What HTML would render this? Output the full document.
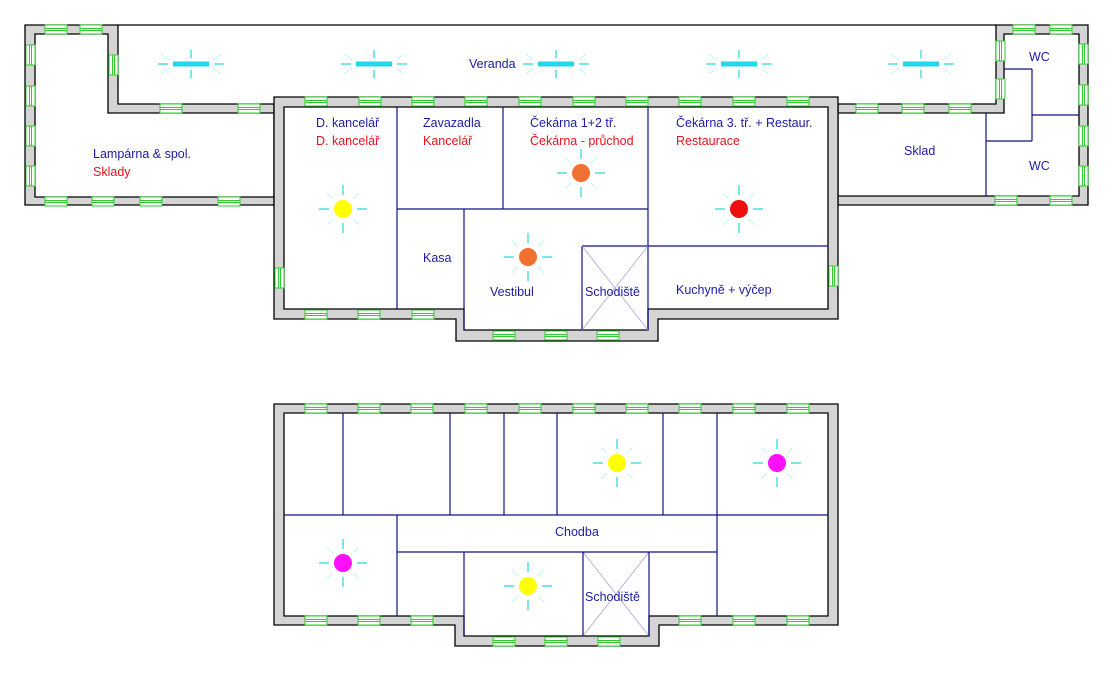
<!DOCTYPE html>
<html><head><meta charset="utf-8"><style>
html,body{margin:0;padding:0;background:#fff}
svg{display:block}
text{font-family:"Liberation Sans",Arial,sans-serif;font-size:12.5px}
.b{fill:#1c1ca8}.r{fill:#e8141e}
.w{fill:#d4d4d4;stroke:#000;stroke-width:1.3;fill-rule:evenodd}
.l{stroke:#10108a;stroke-width:1.2;fill:none}
</style></head><body>
<svg width="1113" height="700" viewBox="0 0 1113 700" xmlns="http://www.w3.org/2000/svg">
<defs>
<g id="wh"><rect x="0" y="0" width="22" height="9" fill="#fff" stroke="#2ecc2e" stroke-width="1"/><line x1="0" y1="3.5" x2="22" y2="3.5" stroke="#2ecc2e"/><line x1="0" y1="5.5" x2="22" y2="5.5" stroke="#2ecc2e"/></g>
<g id="wv"><rect x="0" y="0" width="9" height="20" fill="#fff" stroke="#2ecc2e" stroke-width="1"/><line x1="3.5" y1="0" x2="3.5" y2="20" stroke="#2ecc2e"/><line x1="5.5" y1="0" x2="5.5" y2="20" stroke="#2ecc2e"/></g>
<g id="sun"><g stroke="#22d8d8" stroke-width="1.2"><line x1="-24" y1="0" x2="-14" y2="0"/><line x1="14" y1="0" x2="24" y2="0"/><line x1="0" y1="-24" x2="0" y2="-14"/><line x1="0" y1="14" x2="0" y2="24"/></g><g stroke="#bff4f4" stroke-width="1"><line x1="-16" y1="-16" x2="-10" y2="-10"/><line x1="16" y1="-16" x2="10" y2="-10"/><line x1="-16" y1="16" x2="-10" y2="10"/><line x1="16" y1="16" x2="10" y2="10"/></g></g>
<g id="lamp"><rect x="-18" y="-2.5" width="36" height="5" fill="#22d8e8"/><g stroke="#22d8d8" stroke-width="1.2"><line x1="-33" y1="0" x2="-23" y2="0"/><line x1="23" y1="0" x2="33" y2="0"/><line x1="0" y1="-14" x2="0" y2="-6"/><line x1="0" y1="6" x2="0" y2="14"/></g><g stroke="#bff4f4"><line x1="-30" y1="-10" x2="-22" y2="-4"/><line x1="30" y1="-10" x2="22" y2="-4"/><line x1="-30" y1="10" x2="-22" y2="4"/><line x1="30" y1="10" x2="22" y2="4"/></g></g>
</defs>

<!-- veranda top line -->
<line x1="118" y1="25" x2="996" y2="25" stroke="#000" stroke-width="1.3"/>

<!-- left wing -->
<path class="w" d="M25,25 H118 V104 H274 V205 H25 Z M35,34 V197 H274 V113 H108 V34 Z"/>
<!-- right wing -->
<path class="w" d="M996,25 H1088 V205 H838 V104 H996 Z M1004,34 V113 H838 V196 H1079 V34 Z"/>
<!-- main block top -->
<path class="w" d="M274,97 H838 V319 H658 V341 H456 V319 H274 Z M284,107 V309 H464 V330 H648 V309 H828 V107 Z"/>
<!-- main block bottom -->
<path class="w" d="M274,404 H838 V625 H659 V646 H455 V625 H274 Z M284,413 V616 H464 V636 H649 V616 H828 V413 Z"/>

<!-- interior lines top -->
<g class="l">
<line x1="397" y1="107" x2="397" y2="309"/>
<line x1="503" y1="107" x2="503" y2="209"/>
<line x1="397" y1="209" x2="648" y2="209"/>
<line x1="464" y1="209" x2="464" y2="330"/>
<line x1="648" y1="107" x2="648" y2="330"/>
<line x1="582" y1="246" x2="582" y2="330"/>
<line x1="582" y1="246" x2="828" y2="246"/>
<line x1="986" y1="113" x2="986" y2="196"/>
<line x1="986" y1="141" x2="1032" y2="141"/>
<line x1="1032" y1="69" x2="1032" y2="141"/>
<line x1="1004" y1="69" x2="1032" y2="69"/>
<line x1="1032" y1="115" x2="1079" y2="115"/>
</g>
<g stroke="#a8a8d8" stroke-width="0.8"><line x1="582" y1="246" x2="648" y2="330"/><line x1="648" y1="246" x2="582" y2="330"/>
<line x1="583" y1="552" x2="649" y2="636"/><line x1="649" y1="552" x2="583" y2="636"/></g>

<!-- interior lines bottom -->
<g class="l">
<line x1="343" y1="413" x2="343" y2="515"/>
<line x1="450" y1="413" x2="450" y2="515"/>
<line x1="504" y1="413" x2="504" y2="515"/>
<line x1="557" y1="413" x2="557" y2="515"/>
<line x1="663" y1="413" x2="663" y2="515"/>
<line x1="717" y1="413" x2="717" y2="616"/>
<line x1="284" y1="515" x2="828" y2="515"/>
<line x1="397" y1="515" x2="397" y2="616"/>
<line x1="397" y1="552" x2="717" y2="552"/>
<line x1="464" y1="552" x2="464" y2="636"/>
<line x1="583" y1="552" x2="583" y2="636"/>
<line x1="649" y1="552" x2="649" y2="636"/>
</g>

<!-- windows -->
<g>
<!-- left wing -->
<use href="#wh" x="45" y="25"/><use href="#wh" x="80" y="25"/>
<use href="#wv" x="26" y="45"/><use href="#wv" x="26" y="86"/><use href="#wv" x="26" y="126"/><use href="#wv" x="26" y="166"/>
<use href="#wv" x="109" y="55"/>
<use href="#wh" x="160" y="104"/><use href="#wh" x="238" y="104"/>
<use href="#wh" x="45" y="197"/><use href="#wh" x="92" y="197"/><use href="#wh" x="140" y="197"/><use href="#wh" x="218" y="197"/>
<!-- right wing -->
<use href="#wh" x="856" y="104"/><use href="#wh" x="902" y="104"/><use href="#wh" x="949" y="104"/>
<use href="#wh" x="1013" y="25"/><use href="#wh" x="1050" y="25"/>
<use href="#wv" x="1079" y="44"/><use href="#wv" x="1079" y="85"/><use href="#wv" x="1079" y="126"/><use href="#wv" x="1079" y="166"/>
<use href="#wv" x="996" y="41"/><use href="#wv" x="996" y="79"/>
<use href="#wh" x="995" y="196"/><use href="#wh" x="1050" y="196"/>
<!-- main top -->
<use href="#wh" x="305" y="97"/><use href="#wh" x="359" y="97"/><use href="#wh" x="412" y="97"/><use href="#wh" x="465" y="97"/><use href="#wh" x="519" y="97"/><use href="#wh" x="573" y="97"/><use href="#wh" x="626" y="97"/><use href="#wh" x="679" y="97"/><use href="#wh" x="733" y="97"/><use href="#wh" x="787" y="97"/>
<use href="#wh" x="305" y="310"/><use href="#wh" x="358" y="310"/><use href="#wh" x="412" y="310"/>
<use href="#wh" x="493" y="331"/><use href="#wh" x="545" y="331"/><use href="#wh" x="597" y="331"/>
<use href="#wv" x="275" y="268"/><use href="#wv" x="829" y="266"/>
<!-- main bottom -->
<use href="#wh" x="305" y="404"/><use href="#wh" x="358" y="404"/><use href="#wh" x="411" y="404"/><use href="#wh" x="465" y="404"/><use href="#wh" x="519" y="404"/><use href="#wh" x="573" y="404"/><use href="#wh" x="626" y="404"/><use href="#wh" x="679" y="404"/><use href="#wh" x="733" y="404"/><use href="#wh" x="787" y="404"/>
<use href="#wh" x="305" y="616"/><use href="#wh" x="358" y="616"/><use href="#wh" x="411" y="616"/><use href="#wh" x="679" y="616"/><use href="#wh" x="733" y="616"/><use href="#wh" x="787" y="616"/>
<use href="#wh" x="493" y="637"/><use href="#wh" x="545" y="637"/><use href="#wh" x="598" y="637"/>
</g>

<!-- lamps -->
<use href="#lamp" x="191" y="64"/><use href="#lamp" x="374" y="64"/><use href="#lamp" x="556" y="64"/><use href="#lamp" x="739" y="64"/><use href="#lamp" x="921" y="64"/>
<use href="#sun" x="343" y="209"/><circle cx="343" cy="209" r="9" fill="#ffff00"/>
<use href="#sun" x="581" y="173"/><circle cx="581" cy="173" r="9" fill="#f07030"/>
<use href="#sun" x="739" y="209"/><circle cx="739" cy="209" r="9" fill="#ee1010"/>
<use href="#sun" x="528" y="257"/><circle cx="528" cy="257" r="9" fill="#f07030"/>
<use href="#sun" x="617" y="463"/><circle cx="617" cy="463" r="9" fill="#ffff00"/>
<use href="#sun" x="777" y="463"/><circle cx="777" cy="463" r="9" fill="#ff10ff"/>
<use href="#sun" x="343" y="563"/><circle cx="343" cy="563" r="9" fill="#ff10ff"/>
<use href="#sun" x="528" y="586"/><circle cx="528" cy="586" r="9" fill="#ffff00"/>

<!-- labels -->
<text class="b" x="469" y="68">Veranda</text>
<text class="b" x="93" y="158">Lampárna &amp; spol.</text>
<text class="r" x="93" y="176">Sklady</text>
<text class="b" x="316" y="127">D. kancelář</text>
<text class="r" x="316" y="145">D. kancelář</text>
<text class="b" x="423" y="127">Zavazadla</text>
<text class="r" x="423" y="145">Kancelář</text>
<text class="b" x="530" y="127">Čekárna 1+2 tř.</text>
<text class="r" x="530" y="145">Čekárna - průchod</text>
<text class="b" x="676" y="127">Čekárna 3. tř. + Restaur.</text>
<text class="r" x="676" y="145">Restaurace</text>
<text class="b" x="904" y="155">Sklad</text>
<text class="b" x="1029" y="61">WC</text>
<text class="b" x="1029" y="170">WC</text>
<text class="b" x="423" y="262">Kasa</text>
<text class="b" x="490" y="296">Vestibul</text>
<text class="b" x="585" y="296">Schodiště</text>
<text class="b" x="676" y="294">Kuchyně + výčep</text>
<text class="b" x="555" y="536">Chodba</text>
<text class="b" x="585" y="601">Schodiště</text>
</svg>
</body></html>
